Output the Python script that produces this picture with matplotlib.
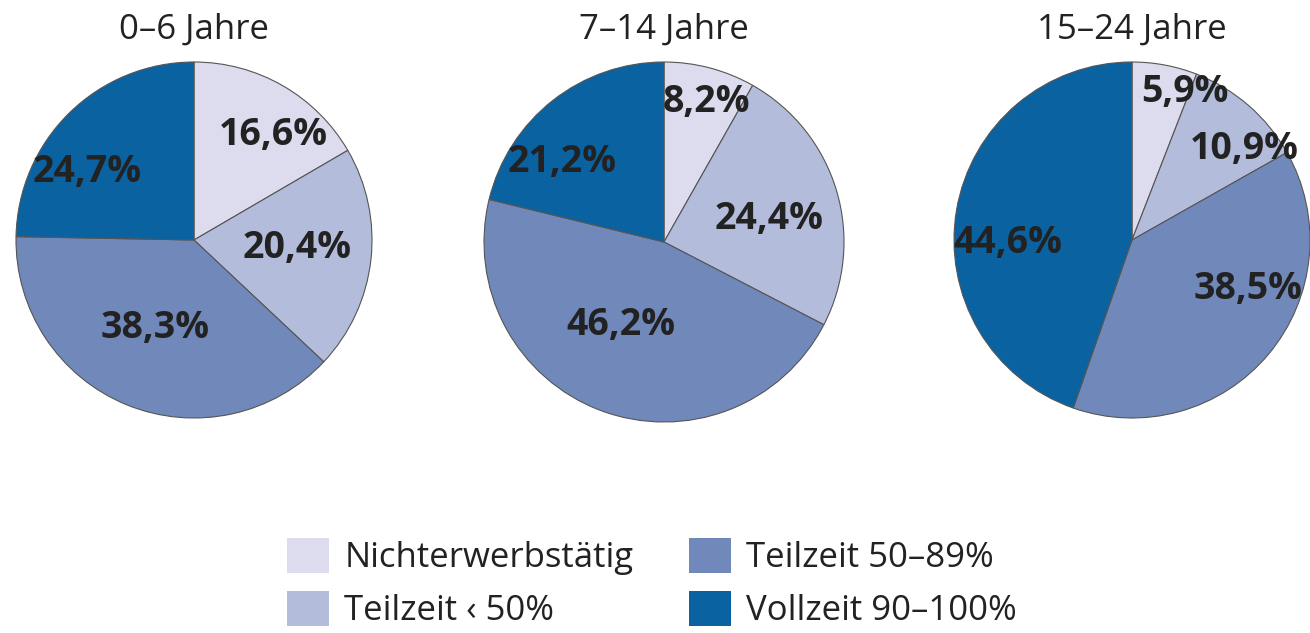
import numpy as np
import matplotlib.pyplot as plt

plt.rcParams['font.family'] = ['Open Sans', 'DejaVu Sans']

# data
groups = ['0–6 Jahre', '7–14 Jahre', '15–24 Jahre']
categories = ['Nichterwerbstätig', 'Teilzeit ‹ 50%', 'Teilzeit 50–89%', 'Vollzeit 90–100%']
shares = [
    [16.6, 20.4, 38.3, 24.7],
    [8.2, 24.4, 46.2, 21.2],
    [5.9, 10.9, 38.5, 44.6],
]
labels = [
    ['16,6%', '20,4%', '38,3%', '24,7%'],
    ['8,2%', '24,4%', '46,2%', '21,2%'],
    ['5,9%', '10,9%', '38,5%', '44,6%'],
]

colors = ['#dcdcee', '#b4bcdc', '#7189ba', '#0b62a0']

# label placement (radius fraction, angle shift in deg) per wedge
label_pos = [
    [(0.74, -7), (0.58, 2), (0.54, -2), (0.71, 13)],
    [(0.81, -2), (0.60, -4), (0.52, -7), (0.72, 14)],
    [(0.88, -9), (0.81, -10), (0.71, 17), (0.70, 11)],
]

W, H = 1310, 633
fig = plt.figure(figsize=(W / 100, H / 100), dpi=100)

centers = [(194, 240), (664, 242), (1132, 240)]
radii = [178, 180, 178]

wedges_all = []
for i in range(3):
    cx, cy = centers[i]
    r = radii[i]
    pad = 1.02
    size = 2 * r * pad
    ax = fig.add_axes([(cx - size / 2) / W, (H - cy - size / 2) / H, size / W, size / H])
    wedges, _ = ax.pie(shares[i], colors=colors, startangle=90, counterclock=False,
                       wedgeprops=dict(edgecolor='#555555', linewidth=0.8))
    ax.set_xlim(-pad, pad)
    ax.set_ylim(-pad, pad)
    ax.set_aspect('equal')
    wedges_all.append(wedges)
    for w, lab, (d, shift) in zip(wedges, labels[i], label_pos[i]):
        ang = np.deg2rad((w.theta1 + w.theta2) / 2 + shift)
        ax.text(d * np.cos(ang), d * np.sin(ang), lab, ha='center', va='center',
                fontsize=27, fontweight='bold', color='#222222', clip_on=False)
    fig.text(cx / W, 1 - 30 / H, groups[i], ha='center', va='center',
             fontsize=25, color='#222222')

fig.legend(wedges_all[0], categories, ncol=2, loc='center',
           bbox_to_anchor=(652 / W, 1 - 583 / H), frameon=False,
           fontsize=25, handlelength=1.2, handleheight=1.2,
           columnspacing=1.6, labelspacing=0.45, handletextpad=0.45,
           labelcolor='#222222')
for h in fig.legends[0].legend_handles:
    h.set_edgecolor('none')

fig.savefig('out.png', dpi=100, facecolor='white')
